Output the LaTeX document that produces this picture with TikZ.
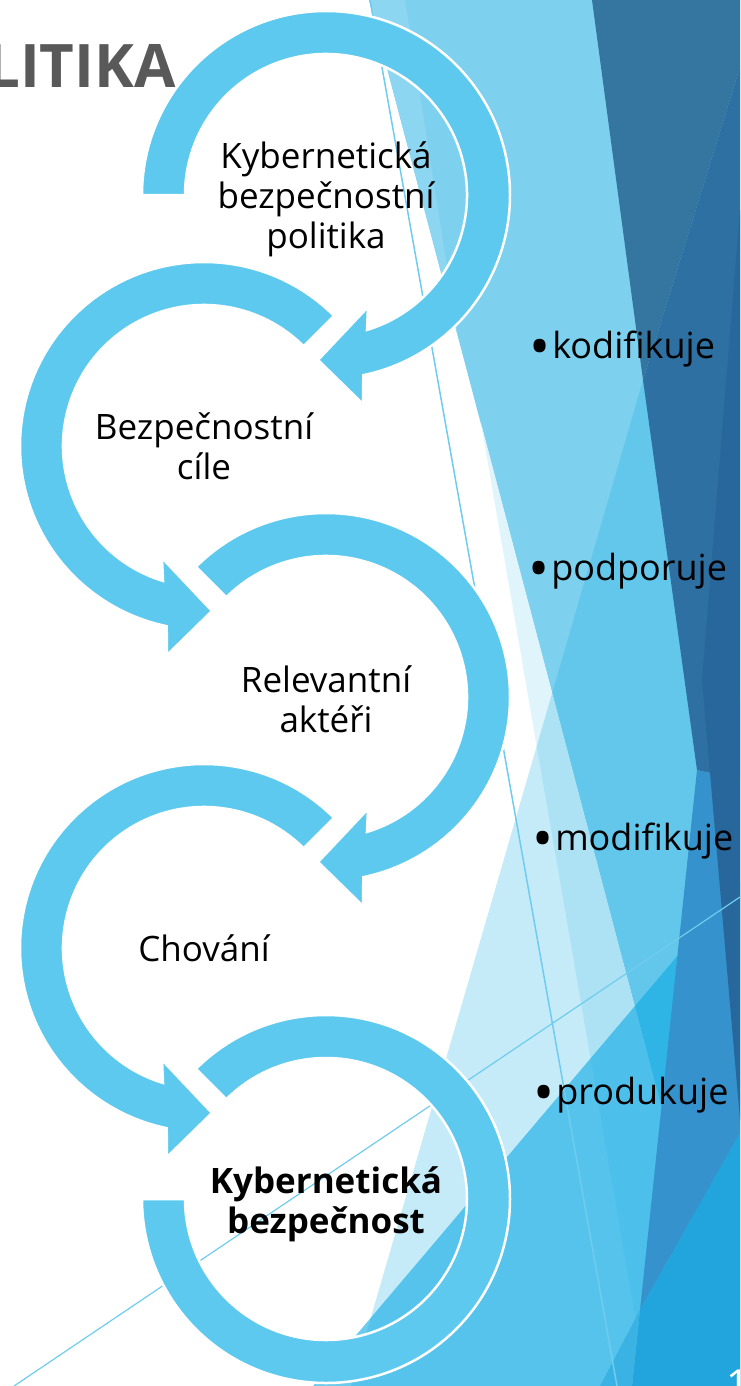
\documentclass[tikz,border=0pt]{standalone}
\usepackage{fontspec}
\setmainfont{Open Sans}
\usepackage{tikz}

\definecolor{ringblue}{HTML}{5DC9EE}
\definecolor{skyA}{HTML}{7DD0EE}
\definecolor{skyStrip}{HTML}{8DD6F1}
\definecolor{paleStrip}{HTML}{E0F4FB}
\definecolor{triC}{HTML}{18B0E4}
\definecolor{triM}{HTML}{0CAAE3}
\definecolor{steel}{HTML}{3476A0}
\definecolor{steelDk}{HTML}{2E70A2}
\definecolor{steelXd}{HTML}{27679B}
\definecolor{midBlue}{HTML}{3592CC}
\definecolor{brightBlue}{HTML}{22A5DC}
\definecolor{cyanBit}{HTML}{3AB3E4}
\definecolor{lineBlue}{HTML}{6FCCEE}
\definecolor{titleGray}{HTML}{595959}

\newcommand{\bigdot}{\raisebox{-8pt}{\fontsize{56}{40}\selectfont •}}

\begin{document}
\begin{tikzpicture}[x=1pt, y=1pt,
    ring/.style={fill=ringblue, draw=white, line width=2.5pt},
    lbl/.style={align=center, inner sep=0pt, font=\fontsize{35}{40}\selectfont},
    bul/.style={anchor=base west, inner sep=0pt, font=\fontsize{36}{40}\selectfont}]
    \useasboundingbox (0,0) rectangle (740,-1386);
    \clip (0,0) rectangle (740,-1386);

    \fill[skyA] (369,0) -- (740,0) -- (740,-1386) -- (735,-1386) -- cycle;
    \fill[skyStrip] (369,0) -- (405,0) -- (458,-336) -- cycle;
    \fill[paleStrip] (481,-423) -- (735,-1386) -- (647,-1386) -- cycle;
    \fill[triC, opacity=.25] (643,-380) -- (351,-1386) -- (740,-1386) -- (740,-700) -- cycle;
    \fill[triM, opacity=.6] (313,-1386) -- (740,-882) -- (740,-1386) -- cycle;
    \fill[steel] (592,0) -- (740,0) -- (740,-67) -- (643,-380) -- cycle;
    \fill[steelDk] (740,-67) -- (643,-380) -- (697,-770) -- (740,-780) -- cycle;
    \fill[midBlue] (697,-770) -- (640,-1310) -- (740,-1133) -- (740,-780) -- cycle;
    \fill[steelXd] (740,-210) -- (702,-680) -- (740,-1120) -- cycle;
    \fill[brightBlue] (640,-1310) -- (740,-1133) -- (740,-1386) -- (632,-1386) -- cycle;
    \fill[cyanBit] (640,-1310) -- (632,-1386) -- (600,-1386) -- cycle;
    \draw[lineBlue, line width=1.5pt] (370,0) -- (617,-1386);
    \draw[lineBlue, line width=1.2pt] (14,-1386) -- (740,-897);

    \node[anchor=base east, inner sep=0pt, text=titleGray, font=\fontsize{60}{60}\selectfont\bfseries] (title) at (176,-88) {LITIKA};

    \coordinate (r1) at (326,-195);
    \coordinate (r2) at (204,-446);
    \coordinate (r3) at (326,-697);
    \coordinate (r4) at (204,-948);
    \coordinate (r5) at (326,-1199);

    \foreach \rc/\sa in {r1/180, r3/135} {
        \begin{scope}[shift={(\rc)}]
            \draw[ring] (\sa:184) arc[start angle=\sa, end angle=-78.3, radius=184]
                -- (37,-209) -- (-8,-165) -- (42,-112) -- (-73.1:141)
                arc[start angle=-73.1, end angle=\sa, radius=141] -- cycle;
        \end{scope}
    }
    \foreach \rc in {r2, r4} {
        \begin{scope}[shift={(\rc)}]
            \draw[ring] (45:184) arc[start angle=45, end angle=258.3, radius=184]
                -- (-37,-209) -- (8,-165) -- (-42,-112) -- (253.1:141)
                arc[start angle=253.1, end angle=45, radius=141] -- cycle;
        \end{scope}
    }
    \begin{scope}[shift={(r5)}]
        \draw[ring] (135:184) arc[start angle=135, end angle=-180, radius=184]
            -- (180:141) arc[start angle=-180, end angle=135, radius=141] -- cycle;
    \end{scope}

    \node[lbl] (t1) at (326,-199) {Kybernetická\\bezpečnostní\\politika};
    \node[lbl] (t2) at (r2) {Bezpečnostní\\cíle};
    \node[lbl] (t3) at (326,-699) {Relevantní\\aktéři};
    \node[lbl] (t4) at (r4) {Chování};
    \node[lbl, font=\fontsize{35}{40}\selectfont\bfseries] (t5) at (326,-1204) {Kybernetická\\bezpečnost};

    \node[bul] (b1) at (529,-358) {\bigdot\kern2pt kodifikuje};
    \node[bul] (b2) at (528,-580) {\bigdot\kern2pt podporuje};
    \node[bul] (b3) at (532,-850) {\bigdot\kern2pt modifikuje};
    \node[bul] (b4) at (533,-1104) {\bigdot\kern2pt produkuje};

    \node[anchor=base west, inner sep=0pt, text=white, font=\fontsize{40}{40}\selectfont] (pg) at (726,-1398) {1};
\end{tikzpicture}
\end{document}
